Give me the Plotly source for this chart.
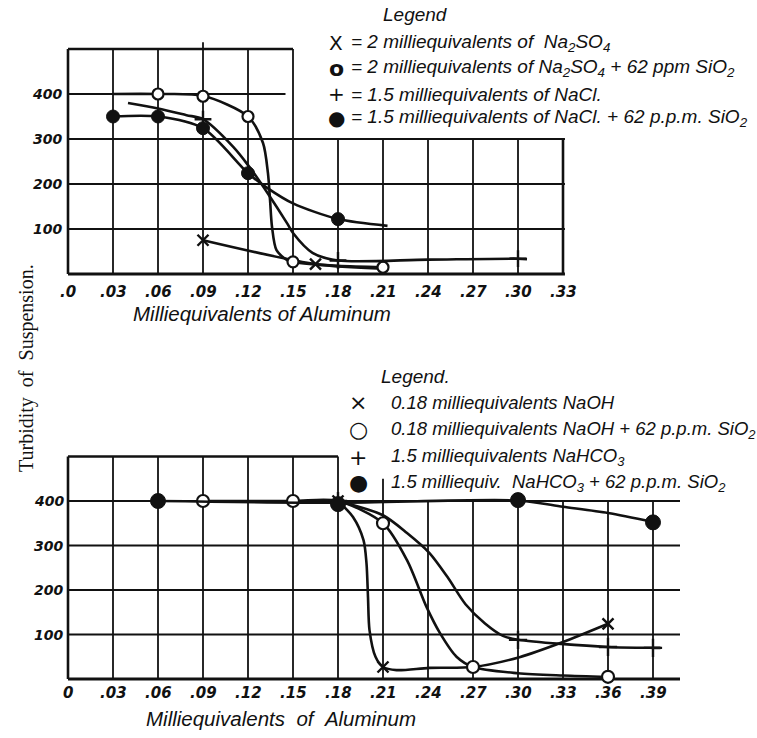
import plotly.graph_objects as go

W, H = 757, 738
INK = "#111111"
HAND = "Liberation Sans, Arial, sans-serif"
SERIF = "Liberation Serif, DejaVu Serif, serif"
NB = "\u00a0"

# ---------------- top chart data ----------------
top_xticks = [0.0, 0.03, 0.06, 0.09, 0.12, 0.15, 0.18, 0.21, 0.24, 0.27, 0.30, 0.33]
top_xtick_labels = [".0", ".03", ".06", ".09", ".12", ".15", ".18", ".21", ".24", ".27", ".30", ".33"]
top_yticks = [100, 200, 300, 400]
top_ytick_labels = ["100", "200", "300", "400"]

# X = 2 meq Na2SO4
na2so4_curve_x = [0.09, 0.165, 0.21]
na2so4_curve_y = [75, 22, 12]
na2so4_mark_x = [0.09, 0.165]
na2so4_mark_y = [75, 22]

# O = 2 meq Na2SO4 + 62 ppm SiO2
na2so4si_curve_x = [0.03, 0.06, 0.09, 0.12, 0.13, 0.1333, 0.1347, 0.136, 0.139, 0.146, 0.15, 0.18, 0.21]
na2so4si_curve_y = [400, 400, 396, 350, 291, 224, 164, 105, 53, 31, 27, 18, 15]
na2so4si_mark_x = [0.06, 0.09, 0.12, 0.15, 0.21]
na2so4si_mark_y = [400, 395, 350, 27, 15]

# + = 1.5 meq NaCl
nacl_curve_x = [0.04, 0.06, 0.079, 0.09, 0.11, 0.12, 0.133, 0.146, 0.15, 0.163, 0.18, 0.24, 0.30, 0.306]
nacl_curve_y = [380, 368, 353, 344, 283, 242, 180, 113, 91, 47, 30, 32, 34, 33]
nacl_mark_x = [0.09, 0.18, 0.30]
nacl_mark_y = [344, 30, 34]

# filled = 1.5 meq NaCl + 62 ppm SiO2
naclsi_curve_x = [0.03, 0.06, 0.09, 0.12, 0.133, 0.15, 0.18, 0.213]
naclsi_curve_y = [350, 350, 324, 224, 191, 157, 122, 107]
naclsi_mark_x = [0.03, 0.06, 0.09, 0.12, 0.18]
naclsi_mark_y = [350, 350, 324, 224, 122]

# ---------------- bottom chart data ----------------
bot_xticks = [0.0, 0.03, 0.06, 0.09, 0.12, 0.15, 0.18, 0.21, 0.24, 0.27, 0.30, 0.33, 0.36, 0.39]
bot_xtick_labels = ["0", ".03", ".06", ".09", ".12", ".15", ".18", ".21", ".24", ".27", ".30", ".33", ".36", ".39"]
bot_yticks = [100, 200, 300, 400]
bot_ytick_labels = ["100", "200", "300", "400"]

# X = 0.18 meq NaOH
naoh_curve_x = [0.18, 0.19, 0.197, 0.199, 0.20, 0.201, 0.205, 0.21, 0.219, 0.241, 0.27, 0.301, 0.33, 0.36]
naoh_curve_y = [400, 364, 312, 260, 184, 110, 50, 27, 20, 25, 27, 49, 83, 124]
naoh_mark_x = [0.18, 0.21, 0.36]
naoh_mark_y = [400, 27, 124]

# O = 0.18 meq NaOH + 62 ppm SiO2
naohsi_curve_x = [0.09, 0.15, 0.18, 0.21, 0.226, 0.239, 0.248, 0.259, 0.27, 0.30, 0.33, 0.36]
naohsi_curve_y = [400, 400, 400, 350, 267, 162, 103, 50, 27, 13, 8, 5]
naohsi_mark_x = [0.09, 0.15, 0.21, 0.27, 0.36]
naohsi_mark_y = [400, 400, 350, 27, 5]

# + = 1.5 meq NaHCO3
nahco3_curve_x = [0.18, 0.21, 0.226, 0.241, 0.253, 0.265, 0.278, 0.29, 0.30, 0.36, 0.39, 0.395]
nahco3_curve_y = [400, 368, 328, 283, 229, 168, 125, 97, 88, 72, 70, 70]
nahco3_mark_x = [0.18, 0.30, 0.36, 0.39]
nahco3_mark_y = [400, 88, 72, 70]

# filled = 1.5 meq NaHCO3 + 62 ppm SiO2
nahco3si_curve_x = [0.06, 0.18, 0.30, 0.33, 0.36, 0.39]
nahco3si_curve_y = [400, 396, 401, 387, 373, 353]
nahco3si_mark_x = [0.06, 0.18, 0.30, 0.39]
nahco3si_mark_y = [400, 393, 402, 352]

# legends
top_legend_title = "Legend"
top_legend_symbols = ["X", "o", "+", "●"]
top_legend_texts = [
    "= 2 milliequivalents of " + NB + "Na<sub>2</sub>SO<sub>4</sub>",
    "= 2 milliequivalents of Na<sub>2</sub>SO<sub>4</sub> + 62 ppm SiO<sub>2</sub>",
    "= 1.5 milliequivalents of NaCl.",
    "= 1.5 milliequivalents of NaCl. + 62 p.p.m. SiO<sub>2</sub>",
]
bot_legend_title = "Legend."
bot_legend_symbols = ["×", "○", "+", "●"]
bot_legend_texts = [
    "0.18 milliequivalents NaOH",
    "0.18 milliequivalents NaOH + 62 p.p.m. SiO<sub>2</sub>",
    "1.5 milliequivalents NaHCO<sub>3</sub>",
    "1.5 milliequiv. " + NB + "NaHCO<sub>3</sub> + 62 p.p.m. SiO<sub>2</sub>",
]
x_title_top = "Milliequivalents of Aluminum"
x_title_bot = "Milliequivalents " + NB + "of " + NB + "Aluminum"
y_title = "Turbidity " + NB + "of " + NB + "Suspension."

# ---------------- pixel geometry ----------------
X0PX, XSCALE = 68.0, 1500.0          # px at x=0, px per unit x
TOP_Y0PX, TOP_YSCALE = 274.0, 0.45   # px at y=0, px per unit y
BOT_Y0PX, BOT_YSCALE = 679.0, 0.445
SPLIT = 370.0


def px(x):
    return x / W


def py(y):
    return 1 - y / H


fig = go.Figure()


def add_series(cx, cy, mx, my, kind, size, xa, ya):
    fig.add_trace(go.Scatter(x=cx, y=cy, mode="lines", xaxis=xa, yaxis=ya,
                             line=dict(color=INK, width=2.6, shape="spline", smoothing=0.8),
                             hoverinfo="skip", showlegend=False))
    if kind == "filled":
        mk = dict(symbol="circle", size=size, color=INK, line=dict(color=INK, width=1))
    elif kind == "open":
        mk = dict(symbol="circle", size=size, color="white", line=dict(color=INK, width=2.2))
    elif kind == "x":
        mk = dict(symbol="x-thin", size=size, color=INK, line=dict(color=INK, width=2.4))
    else:
        mk = dict(symbol="cross-thin", size=size, color=INK, line=dict(color=INK, width=2.4))
    fig.add_trace(go.Scatter(x=mx, y=my, mode="markers", xaxis=xa, yaxis=ya, marker=mk,
                             hoverinfo="skip", showlegend=False))


# top chart
add_series(na2so4_curve_x, na2so4_curve_y, na2so4_mark_x, na2so4_mark_y, "x", 11, "x", "y")
add_series(na2so4si_curve_x, na2so4si_curve_y, na2so4si_mark_x, na2so4si_mark_y, "open", 11, "x", "y")
add_series(nacl_curve_x, nacl_curve_y, nacl_mark_x, nacl_mark_y, "plus", 12, "x", "y")
add_series(naclsi_curve_x, naclsi_curve_y, naclsi_mark_x, naclsi_mark_y, "filled", 13, "x", "y")

# bottom chart
add_series(naoh_curve_x, naoh_curve_y, naoh_mark_x, naoh_mark_y, "x", 11, "x2", "y2")
add_series(naohsi_curve_x, naohsi_curve_y, naohsi_mark_x, naohsi_mark_y, "open", 12, "x2", "y2")
add_series(nahco3_curve_x, nahco3_curve_y, nahco3_mark_x, nahco3_mark_y, "plus", 13, "x2", "y2")
add_series(nahco3si_curve_x, nahco3si_curve_y, nahco3si_mark_x, nahco3si_mark_y, "filled", 15, "x2", "y2")

shapes = []


def seg(x0, y0, x1, y1, xr, yr, w=1.8):
    shapes.append(dict(type="line", x0=x0, y0=y0, x1=x1, y1=y1, xref=xr, yref=yr,
                       line=dict(color=INK, width=w), layer="below"))


# top grid (L-shaped outline)
for xv in top_xticks:
    top = 500 if xv <= 0.15 else 300
    if abs(xv - 0.09) < 1e-9:
        top = 515
    w = 2.6 if xv in (0.0, 0.33) else 1.8
    seg(xv, 0, xv, top, "x", "y", w)
seg(0, 0, 0.3313, 0, "x", "y", 3)
for yv in [100, 200, 300]:
    seg(0, yv, 0.3313, yv, "x", "y")
seg(0, 400, 0.145, 400, "x", "y")
seg(0, 500, 0.15, 500, "x", "y", 2.4)

# bottom grid
for xv in bot_xticks:
    top = 500 if xv <= 0.18 else 400
    if abs(xv - 0.21) < 1e-9:
        top = 450
    w = 2.6 if xv == 0.0 else 1.8
    seg(xv, 0, xv, top, "x2", "y2", w)
seg(0, 0, 0.408, 0, "x2", "y2", 3)
for yv in [100, 200, 300, 400]:
    seg(0, yv, 0.408, yv, "x2", "y2")
seg(0, 500, 0.18, 500, "x2", "y2", 2.4)

ann = []
C = dict(xanchor="center", yanchor="middle", showarrow=False)
tick_font = dict(family="DejaVu Sans, sans-serif", size=15, color=INK, weight="bold", style="italic")
ytick_font = dict(family="DejaVu Sans, sans-serif", size=14, color=INK, weight="bold", style="italic")
for xv, lab in zip(top_xticks, top_xtick_labels):
    ann.append(dict(x=xv, y=-40, xref="x", yref="y", text=lab, font=tick_font, **C))
for yv, lab in zip(top_yticks, top_ytick_labels):
    ann.append(dict(x=-0.014, y=yv, xref="x", yref="y", text=lab, font=ytick_font, **C))
for xv, lab in zip(bot_xticks, bot_xtick_labels):
    ann.append(dict(x=xv, y=-32, xref="x2", yref="y2", text=lab, font=tick_font, **C))
for yv, lab in zip(bot_yticks, bot_ytick_labels):
    ann.append(dict(x=-0.013, y=yv, xref="x2", yref="y2", text=lab, font=ytick_font, **C))

hand_font = dict(family=HAND, size=19, color=INK, style="italic")
bot_hand_font = dict(family=HAND, size=18.5, color=INK, style="italic")
title_font = dict(family=HAND, size=20.5, color=INK, style="italic")

ann.append(dict(x=px(262), y=py(313), xref="paper", yref="paper", text=x_title_top,
                font=title_font, **C))
ann.append(dict(x=px(281), y=py(718), xref="paper", yref="paper", text=x_title_bot,
                font=title_font, **C))
ann.append(dict(x=px(26), y=py(368), xref="paper", yref="paper", text=y_title, textangle=-90,
                font=dict(family=SERIF, size=20, color=INK), **C))

# top legend
ann.append(dict(x=px(415), y=py(15), xref="paper", yref="paper", text=top_legend_title,
                font=hand_font, **C))
for i, (s, t) in enumerate(zip(top_legend_symbols, top_legend_texts)):
    yy = [43, 68, 94, 118][i]
    ann.append(dict(x=px(336), y=py(yy), xref="paper", yref="paper", text=s,
                    font=dict(family="DejaVu Sans, sans-serif", size=20 if s != "o" else 22, color=INK,
                              weight="bold" if s == "o" else "normal"), **C))
    ann.append(dict(x=px(349), y=py(yy), xref="paper", yref="paper", text=t, xanchor="left",
                    yanchor="middle", showarrow=False, font=hand_font))

# bottom legend
ann.append(dict(x=px(415), y=py(377), xref="paper", yref="paper", text=bot_legend_title,
                font=hand_font, **C))
for i, (s, t) in enumerate(zip(bot_legend_symbols, bot_legend_texts)):
    yy = [402, 430, 457, 483][i]
    ann.append(dict(x=px(358), y=py(yy), xref="paper", yref="paper", text=s,
                    font=dict(family="DejaVu Sans, sans-serif", size=22, color=INK), **C))
    ann.append(dict(x=px(389), y=py(yy), xref="paper", yref="paper", text=t, xanchor="left",
                    yanchor="middle", showarrow=False, font=bot_hand_font))

xrange = [-X0PX / XSCALE, (W - X0PX) / XSCALE]
top_yr = [(TOP_Y0PX - SPLIT) / TOP_YSCALE, TOP_Y0PX / TOP_YSCALE]
bot_yr = [(BOT_Y0PX - H) / BOT_YSCALE, (BOT_Y0PX - SPLIT) / BOT_YSCALE]

hidden = dict(visible=False, showgrid=False, zeroline=False, fixedrange=True)
fig.update_layout(
    width=W, height=H, margin=dict(l=0, r=0, t=0, b=0),
    paper_bgcolor="white", plot_bgcolor="white",
    xaxis=dict(domain=[0, 1], range=xrange, anchor="y", **hidden),
    yaxis=dict(domain=[1 - SPLIT / H, 1], range=top_yr, anchor="x", **hidden),
    xaxis2=dict(domain=[0, 1], range=xrange, anchor="y2", **hidden),
    yaxis2=dict(domain=[0, 1 - SPLIT / H], range=bot_yr, anchor="x2", **hidden),
    shapes=shapes, annotations=ann, showlegend=False,
)

fig.write_html("out.html")
